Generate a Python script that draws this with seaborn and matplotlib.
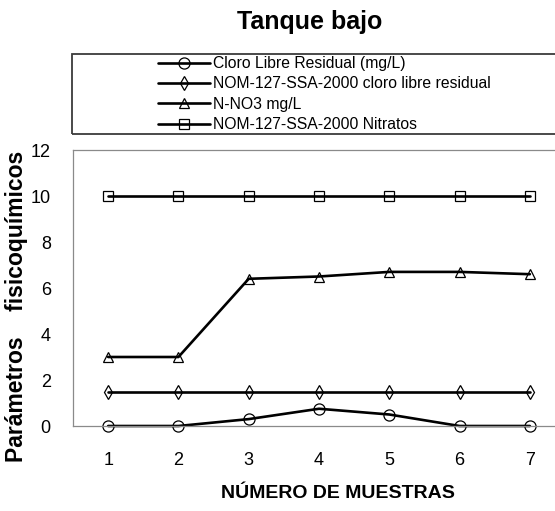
import matplotlib
matplotlib.use("Agg")
import matplotlib.pyplot as plt
import seaborn as sns
import pandas as pd
from matplotlib.patches import Rectangle

# ---- data ----
muestras = [1, 2, 3, 4, 5, 6, 7]
cloro_libre = [0.0, 0.0, 0.3, 0.75, 0.5, 0.0, 0.0]
nom_cloro = [1.5, 1.5, 1.5, 1.5, 1.5, 1.5, 1.5]
n_no3 = [3.0, 3.0, 6.4, 6.5, 6.7, 6.7, 6.6]
nom_nitratos = [10, 10, 10, 10, 10, 10, 10]
series_labels = ["Cloro Libre Residual (mg/L)",
                 "NOM-127-SSA-2000 cloro libre residual",
                 "N-NO3 mg/L",
                 "NOM-127-SSA-2000 Nitratos"]
y_ticks = [0, 2, 4, 6, 8, 10, 12]

sns.set_style("white")
fam = ["Liberation Sans", "DejaVu Sans"]
plt.rcParams["font.family"] = fam
plt.rcParams["text.color"] = "black"
plt.rcParams["xtick.color"] = "black"
plt.rcParams["ytick.color"] = "black"

W, H = 555, 511
fig = plt.figure(figsize=(W / 100, H / 100), dpi=100)
ax = fig.add_axes([73 / W, (H - 426) / H, 492 / W, 276 / H])

styles = [
    (cloro_libre, "o", 8.0),
    (nom_cloro, "d", 7.0),
    (n_no3, "^", 7.0),
    (nom_nitratos, "s", 7.0),
]
for (vals, mk, ms), lab in zip(styles, series_labels):
    df = pd.DataFrame({"x": muestras, "y": vals})
    sns.lineplot(data=df, x="x", y="y", ax=ax, color="black", linewidth=1.9,
                 marker=mk, markersize=ms, markerfacecolor="none",
                 markeredgecolor="black", markeredgewidth=0.9,
                 label=lab, legend=False, clip_on=False)

ax.set_xlim(0.5, 7.5)
ax.set_ylim(0, 12)
ax.set_xticks(muestras)
ax.set_yticks(y_ticks)
ax.tick_params(axis="both", length=0, labelsize=13, colors="black")
ax.tick_params(axis="x", pad=19)
ax.tick_params(axis="y", pad=16)
ax.set_xlabel("")
ax.set_ylabel("")
for s in ax.spines.values():
    s.set_color("#8a8a8a")
    s.set_linewidth(0.9)
    s.set_visible(True)
ax.grid(False)
if ax.get_legend() is not None:
    ax.get_legend().remove()

# title and axis labels
fig.text(310 / W, 1 - 22 / H, "Tanque bajo", ha="center", va="center",
         fontsize=18, fontweight="bold", color="black")
fig.text(338 / W, 1 - 493 / H, "NÚMERO DE MUESTRAS", ha="center", va="center",
         fontsize=14, fontweight="bold", color="black")
fig.text(17 / W, 1 - 306 / H, "Parámetros    fisicoquímicos", ha="center",
         va="center", rotation=90, fontsize=16.5, fontweight="bold",
         color="black")

# legend frame and legend
fig.patches.append(Rectangle((72 / W, 1 - 134 / H), 600 / W, 80 / H,
                             transform=fig.transFigure, fill=False,
                             edgecolor="#3a3a3a", linewidth=1.3))
handles, labels = ax.get_legend_handles_labels()
fig.legend(handles, labels, loc="upper left",
           bbox_to_anchor=(158 / W, 1 - 56 / H), bbox_transform=fig.transFigure,
           frameon=False, borderpad=0, borderaxespad=0, handlelength=3.3,
           handletextpad=0.2, labelspacing=0.34, fontsize=11.3)

fig.savefig("out.png", dpi=100)
